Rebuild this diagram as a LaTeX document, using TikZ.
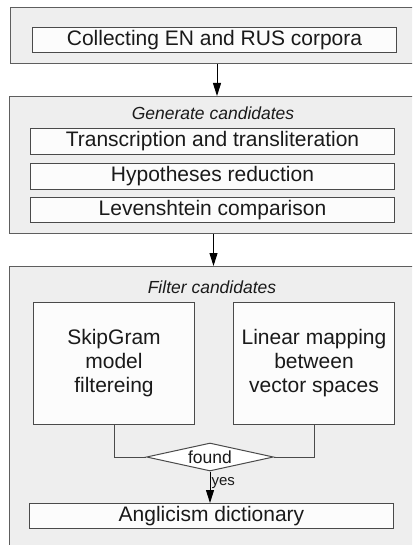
\documentclass[tikz,border=0pt]{standalone}
\usepackage{fontspec}
\setmainfont{Liberation Sans}
\usetikzlibrary{shapes.geometric,arrows.meta}
\definecolor{outerfill}{HTML}{EEEEEE}
\definecolor{outerline}{HTML}{5E5E5E}
\definecolor{innerfill}{HTML}{FCFCFC}
\definecolor{innerline}{HTML}{4A4A4A}
\definecolor{txt}{HTML}{1A1A1A}
\begin{document}
\begin{tikzpicture}[x=1pt,y=-1pt,
  outerbox/.style={draw=outerline,fill=outerfill,line width=1.3pt,anchor=north west,inner sep=0pt},
  inbox/.style={draw=innerline,fill=innerfill,line width=1pt,anchor=north west,inner sep=0pt,
    text=txt,font=\fontsize{21}{24}\selectfont,align=center},
  grouptitle/.style={text=txt,font=\fontsize{17.5}{20}\selectfont\itshape,inner sep=0pt},
  arr/.style={draw=black,line width=1pt,-{Triangle[length=13pt,width=8pt]}},
  link/.style={draw=innerline,line width=1pt},
  decision/.style={diamond,draw=innerline,fill=white,line width=1pt,inner sep=0pt,
    aspect=4.5,minimum width=127pt,minimum height=28pt,text=txt,font=\fontsize{17.5}{20}\selectfont},
  small/.style={text=txt,font=\fontsize{15}{17}\selectfont,inner sep=1pt}
]
\useasboundingbox (0,0) rectangle (412,545);
\clip (0,0) rectangle (412,545);
\fill[white] (0,0) rectangle (412,545);

% group boxes
\node[outerbox,minimum width=430pt,minimum height=56pt] (g1) at (9.5,7) {};
\node[outerbox,minimum width=430pt,minimum height=137pt] (g2) at (9,96) {};
\node[outerbox,minimum width=430pt,minimum height=300pt] (g3) at (9,266) {};

% step boxes
\node[inbox,minimum width=364pt,minimum height=25pt] (collect) at (32,27) {Collecting EN and RUS corpora};
\node[grouptitle] (gen) at (213,113) {Generate candidates};
\node[inbox,minimum width=364pt,minimum height=26pt] (trans) at (30,128) {Transcription and transliteration};
\node[inbox,minimum width=364pt,minimum height=26pt] (hyp) at (30,163) {Hypotheses reduction};
\node[inbox,minimum width=364pt,minimum height=25pt] (lev) at (30,197) {Levenshtein comparison};

\node[grouptitle] (filt) at (212,287) {Filter candidates};
\node[inbox,minimum width=161pt,minimum height=122pt] (skip) at (33,302) {SkipGram\\model\\filtereing};
\node[inbox,minimum width=161pt,minimum height=122pt] (lin) at (233,302) {Linear mapping\\between\\vector spaces};
\node[decision] (found) at (210,457) {found};
\node[inbox,minimum width=364pt,minimum height=25pt] (angl) at (29,503) {Anglicism dictionary};

% connectors
\coordinate (a1) at (217,0);
\coordinate (a2) at (213.5,0);
\draw[arr] (g1.south -| a1) -- (g2.north -| a1);
\draw[arr] (g2.south -| a2) -- (g3.north -| a2);
\draw[link] (skip.south) |- (found.west);
\draw[link] (lin.south) |- (found.east);
\draw[arr] (found.south) -- node[small,right,pos=0.35] {yes} (found.south |- angl.north);
\end{tikzpicture}
\end{document}
